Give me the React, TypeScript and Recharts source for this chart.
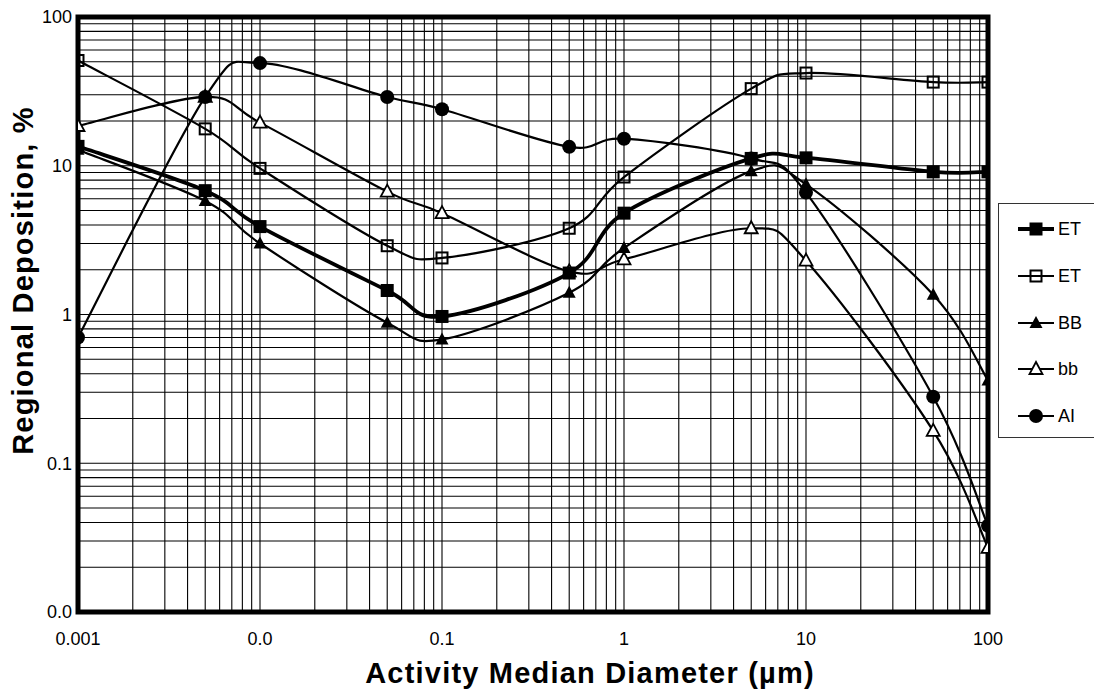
import React from 'react';
import { LineChart, Line, XAxis, YAxis, CartesianGrid, ReferenceArea, Legend } from 'recharts';

// ---- data ----
const diameters = [0.001, 0.005, 0.01, 0.05, 0.1, 0.5, 1, 5, 10, 50, 100];
const etFilled = [13.5, 6.8, 3.9, 1.45, 0.97, 1.9, 4.8, 11.2, 11.3, 9.1, 9.1];
const etOpen = [51, 17.7, 9.6, 2.9, 2.4, 3.8, 8.4, 33, 42, 36.5, 36.5];
const bbUpper = [12.8, 5.8, 3.0, 0.88, 0.68, 1.4, 2.8, 9.2, 7.5, 1.36, 0.36];
const bbLower = [18.5, 29, 19.5, 6.7, 4.8, 1.95, 2.35, 3.8, 2.3, 0.165, 0.027];
const aiValues = [0.7, 29, 49, 29, 24, 13.4, 15.2, 11.2, 6.6, 0.28, 0.038];

const xLabelValues = [0.001, 0.01, 0.1, 1, 10, 100];
const xLabelTexts = ['0.001', '0.0', '0.1', '1', '10', '100'];
const yLabelValues = [0.01, 0.1, 1, 10, 100];
const yLabelTexts = ['0.0', '0.1', '1', '10', '100'];
const minorMultipliers = [1, 2, 3, 4, 5, 6, 7, 8, 9];

const xTicks: number[] = [];
xLabelValues.slice(0, -1).forEach((d) => minorMultipliers.forEach((m) => xTicks.push(m * d)));
xTicks.push(100);
const yTicks: number[] = [];
yLabelValues.slice(0, -1).forEach((d) => minorMultipliers.forEach((m) => yTicks.push(m * d)));
yTicks.push(100);

const data = diameters.map((d, i) => ({
  d,
  ETa: etFilled[i],
  ETb: etOpen[i],
  BB: bbUpper[i],
  bb: bbLower[i],
  AI: aiValues[i],
}));

const fmt = (values: number[], texts: string[]) => (v: number) => {
  const i = values.findIndex((L) => Math.abs(Math.log10(v) - Math.log10(L)) < 1e-6);
  return i >= 0 ? texts[i] : '';
};

// Excel-like smoothed line (Catmull-Rom bezier)
const excelSmooth: any = (context: any) => {
  let pts: [number, number][] = [];
  return {
    areaStart() {},
    areaEnd() {},
    lineStart() {
      pts = [];
    },
    point(x: number, y: number) {
      pts.push([+x, +y]);
    },
    lineEnd() {
      const n = pts.length;
      if (!n) return;
      context.moveTo(pts[0][0], pts[0][1]);
      for (let i = 0; i < n - 1; i++) {
        const p0 = pts[i - 1] || pts[i];
        const p1 = pts[i];
        const p2 = pts[i + 1];
        const p3 = pts[i + 2] || p2;
        context.bezierCurveTo(
          p1[0] + (p2[0] - p0[0]) / 6,
          p1[1] + (p2[1] - p0[1]) / 6,
          p2[0] - (p3[0] - p1[0]) / 6,
          p2[1] - (p3[1] - p1[1]) / 6,
          p2[0],
          p2[1]
        );
      }
    },
  };
};

type MarkerKind = 'squareFilled' | 'squareOpen' | 'triFilled' | 'triOpen' | 'circle';

const Marker = ({ kind, cx, cy }: { kind: MarkerKind; cx: number; cy: number }) => {
  switch (kind) {
    case 'squareFilled':
      return <rect x={cx - 6.5} y={cy - 6.5} width={13} height={13} fill="#000" />;
    case 'squareOpen':
      return <rect x={cx - 5.5} y={cy - 5.5} width={11} height={11} fill="none" stroke="#000" strokeWidth={2} />;
    case 'triFilled':
      return <polygon points={`${cx},${cy - 7} ${cx - 6.5},${cy + 5} ${cx + 6.5},${cy + 5}`} fill="#000" />;
    case 'triOpen':
      return (
        <polygon
          points={`${cx},${cy - 7} ${cx - 6.5},${cy + 5} ${cx + 6.5},${cy + 5}`}
          fill="#fff"
          stroke="#000"
          strokeWidth={1.8}
        />
      );
    default:
      return <circle cx={cx} cy={cy} r={7} fill="#000" />;
  }
};

const seriesList: { key: string; name: string; marker: MarkerKind; width: number }[] = [
  { key: 'ETb', name: 'ET', marker: 'squareOpen', width: 2.2 },
  { key: 'bb', name: 'bb', marker: 'triOpen', width: 2.2 },
  { key: 'BB', name: 'BB', marker: 'triFilled', width: 2.2 },
  { key: 'ETa', name: 'ET', marker: 'squareFilled', width: 3.8 },
  { key: 'AI', name: 'AI', marker: 'circle', width: 2.2 },
];

const legendOrder = ['ETa', 'ETb', 'BB', 'bb', 'AI'];

const LegendBox = () => (
  <div
    style={{
      position: 'relative',
      width: 96,
      height: 235,
      boxSizing: 'border-box',
      borderLeft: '1px solid #333',
      borderTop: '1px solid #333',
      borderBottom: '1px solid #333',
      background: '#fff',
      fontFamily: '"Liberation Sans", Arial, sans-serif',
    }}
  >
    {legendOrder.map((k, i) => {
      const s = seriesList.find((x) => x.key === k)!;
      const top = 25 + i * 46.8;
      return (
        <div key={k} style={{ position: 'absolute', left: 0, top: top - 12, height: 24, width: 96 }}>
          <svg width={40} height={24} style={{ position: 'absolute', left: 18, top: 0 }}>
            <line x1={1} x2={37} y1={12} y2={12} stroke="#000" strokeWidth={s.width} />
            <Marker kind={s.marker} cx={19} cy={12} />
          </svg>
          <span style={{ position: 'absolute', left: 59, top: 1, fontSize: 18, lineHeight: '22px', color: '#000' }}>
            {s.name}
          </span>
        </div>
      );
    })}
  </div>
);

export default function App() {
  return (
    <div style={{ position: 'absolute', left: 0, top: 0 }}>
      <LineChart
        width={1094}
        height={694}
        data={data}
        margin={{ top: 17, right: 106, bottom: 0, left: 0 }}
        style={{ fontFamily: '"Liberation Sans", Arial, sans-serif', background: '#fff' }}
      >
        <CartesianGrid stroke="#000" strokeWidth={1.1} />
        <XAxis
          dataKey="d"
          type="number"
          scale="log"
          domain={[0.001, 100]}
          allowDataOverflow
          ticks={xTicks}
          interval={0}
          tickFormatter={fmt(xLabelValues, xLabelTexts)}
          tickLine={false}
          axisLine={false}
          tickSize={0}
          tickMargin={20}
          height={82}
          tick={{ fill: '#000', fontSize: 18 }}
          label={{
            content: (props: any) => {
              const vb = props.viewBox || { x: 78, width: 910, y: 612 };
              return (
                <text
                  x={vb.x + vb.width / 2 + 57}
                  y={vb.y + 71}
                  textAnchor="middle"
                  fontSize={29}
                  fontWeight="bold"
                  letterSpacing={1.2}
                  fill="#000"
                >
                  Activity Median Diameter (µm)
                </text>
              );
            },
          }}
        />
        <YAxis
          type="number"
          scale="log"
          domain={[0.01, 100]}
          allowDataOverflow
          ticks={yTicks}
          interval={0}
          tickFormatter={fmt(yLabelValues, yLabelTexts)}
          tickLine={false}
          axisLine={false}
          tickSize={0}
          tickMargin={6}
          width={78}
          tick={{ fill: '#000', fontSize: 18 }}
          label={{
            content: (props: any) => {
              const vb = props.viewBox || { x: 0, y: 17, height: 595 };
              const cx = 33;
              const cy = vb.y + vb.height / 2 - 34;
              return (
                <text
                  x={cx}
                  y={cy}
                  transform={`rotate(-90, ${cx}, ${cy})`}
                  textAnchor="middle"
                  fontSize={29}
                  fontWeight="bold"
                  letterSpacing={1.2}
                  fill="#000"
                >
                  Regional Deposition, %
                </text>
              );
            },
          }}
        />
        {seriesList.map((s) => (
          <Line
            key={s.key}
            dataKey={s.key}
            name={s.name}
            type={excelSmooth}
            stroke="#000"
            strokeWidth={s.width}
            isAnimationActive={false}
            activeDot={false}
            dot={(p: any) => <Marker key={`${s.key}-${p.index}`} kind={s.marker} cx={p.cx} cy={p.cy} />}
          />
        ))}
        <ReferenceArea
          x1={0.001}
          x2={100}
          y1={0.01}
          y2={100}
          fill="none"
          fillOpacity={0}
          stroke="#000"
          strokeWidth={5}
          ifOverflow="visible"
        />
        <Legend
          layout="horizontal"
          align="center"
          verticalAlign="middle"
          content={() => <LegendBox />}
          wrapperStyle={{ left: 998, top: 203, width: 96, height: 235 }}
        />
      </LineChart>
    </div>
  );
}
